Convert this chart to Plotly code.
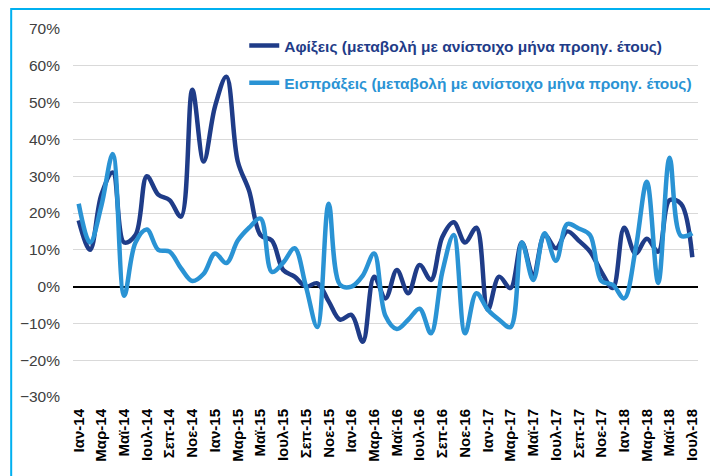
import pandas as pd
import plotly.graph_objects as go

# mesiace Ιαν-14 .. Ιουλ-18 (55 bodov), popisky kazdy druhy mesiac
mesiace = ['Ιαν', 'Φεβ', 'Μαρ', 'Απρ', 'Μαϊ', 'Ιουν', 'Ιουλ', 'Αυγ', 'Σεπ', 'Οκτ', 'Νοε', 'Δεκ']
roky = ['14', '15', '16', '17', '18']
kategorie = [f'{m}-{r}' for r in roky for m in mesiace][:55]

# Αφίξεις, zmena oproti rovnakemu mesiacu predch. roka (%)
afixeis = [18, 10, 25, 31, 12, 14, 30, 25, 23.5, 19,
           53.5, 34, 49, 57, 34, 26, 14, 12.5, 4.5, 2.7,
           0, 0.9, -4, -9, -7.7, -15, 2.7, -3.2, 4.5, -1.8,
           5.9, 1.8, 13.5, 17.5, 12, 16, -6.3, 2.7, -0.4, 12,
           3, 14, 10.4, 15, 12.5, 9.5, 4, -0.4, 16, 9,
           13, 9.5, 23.5, 22.5, 8]

# Εισπράξεις (%)
eispraxeis = [22.5, 12, 22, 36, -2.5, 12, 15.5, 10, 9.5, 5,
              1.5, 3.5, 9, 6.4, 12.5, 16, 18.5, 4, 6.5, 10.4,
              0, -11, 22.5, 0.5, 0, 3, 9, -8, -11.5, -9,
              -6, -12.7, 4, 14, -12.7, -1.8, -6.3, -9, -11, 12,
              1.8, 14.5, 7, 17, 15.8, 14, 1.5, 0.5, -3.2, 10,
              28.5, 1, 35, 13.8, 14.5]

nazov_1 = 'Αφίξεις (μεταβολή με ανίστοιχο μήνα προηγ. έτους)'
nazov_2 = 'Εισπράξεις (μεταβολή με ανίστοιχο μήνα προηγ. έτους)'

df = pd.DataFrame({'mesiac': kategorie, 'afixeis': afixeis, 'eispraxeis': eispraxeis})
df['i'] = df.index

tmava = '#1f3c88'
svetla = '#2a93d4'

fig = go.Figure()
fig.add_trace(go.Scatter(x=df['i'], y=df['afixeis'], name=nazov_1, mode='lines',
                         line=dict(color=tmava, width=4.5, shape='spline', smoothing=1),
                         legend='legend'))
fig.add_trace(go.Scatter(x=df['i'], y=df['eispraxeis'], name=nazov_2, mode='lines',
                         line=dict(color=svetla, width=4.5, shape='spline', smoothing=1),
                         legend='legend2'))

# stranka ma 8px okraj, preto su okraje o 8px mensie
font = 'Arial, Liberation Sans, sans-serif'
fig.update_layout(
    width=718, height=476,
    margin=dict(l=63, r=28, t=21, b=87),
    paper_bgcolor='white', plot_bgcolor='white',
    font=dict(family=font),
    showlegend=True,
    legend=dict(x=0.274, y=0.954, xanchor='left', yanchor='middle', bgcolor='rgba(0,0,0,0)',
                font=dict(size=15.5, color=tmava, family=font, weight='bold')),
    legend2=dict(x=0.274, y=0.853, xanchor='left', yanchor='middle', bgcolor='rgba(0,0,0,0)',
                 font=dict(size=15.5, color=svetla, family=font, weight='bold')),
    xaxis=dict(range=[-0.5, 54.5], tickmode='array', tickvals=list(df['i'][::2]),
               ticktext=list(df['mesiac'][::2]), tickangle=-90, showgrid=False,
               ticks='', ticklabelstandoff=8, showline=False, zeroline=False,
               tickfont=dict(size=15, color='black', family=font, weight='bold')),
    yaxis=dict(range=[-30, 70], dtick=10, ticksuffix='%', showgrid=True, gridcolor='#d9d9d9',
               gridwidth=1, zeroline=True, zerolinecolor='black', zerolinewidth=1.5,
               ticks='', ticklabelstandoff=12, showline=False,
               tickfont=dict(size=15.5, color='#404040', family=font)),
)

# svetlomodry ramik okolo grafu (presahuje vpravo a dole)
fig.add_shape(type='rect', xref='paper', yref='paper', x0=-0.0989, y0=-0.3, x1=1.2, y1=1.0543,
              line=dict(color='#00b0f0', width=2), fillcolor='rgba(0,0,0,0)', layer='above')

fig.write_html('out.html')
